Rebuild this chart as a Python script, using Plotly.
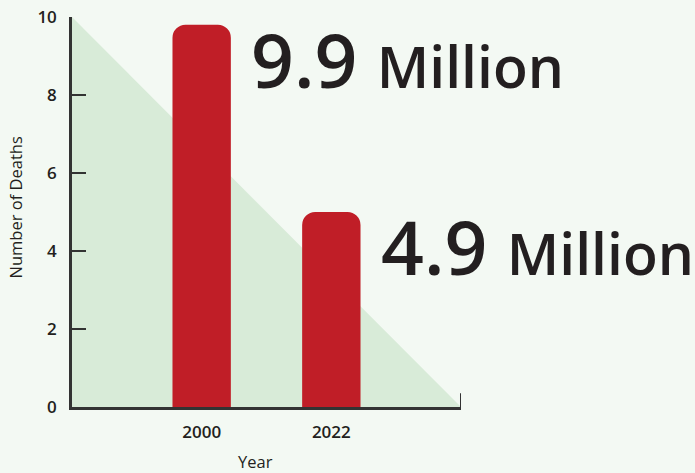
import plotly.graph_objects as go

# ---- data ----
years = ["2000", "2022"]
deaths_millions = [9.8, 5.0]          # bar heights
label_numbers = ["9.9", "4.9"]        # printed values
label_unit = "Million"
y_ticks = [0, 2, 4, 6, 8, 10]

# ---- style ----
bg = "#f3f9f3"
tri_fill = "#d8ebd8"
bar_color = "#c01e27"
axis_color = "#333333"
text_color = "#231f20"
font_family = "Open Sans, Noto Sans, sans-serif"

x_range = [-1, 2]
y_range = [0, 10]
bar_width = 0.45
x_pos = list(range(len(years)))

fig = go.Figure()

# decorative falling triangle across the plot area, drawn beneath the bars
fig.add_shape(
    type="path", xref="x", yref="y", layer="below",
    path=f"M {x_range[0]},{y_range[1]} L {x_range[1]},{y_range[0]} L {x_range[0]},{y_range[0]} Z",
    fillcolor=tri_fill, line=dict(width=0),
)

fig.add_trace(go.Bar(
    x=x_pos, y=deaths_millions, width=bar_width,
    marker=dict(color=bar_color, line=dict(width=0), cornerradius=13),
    showlegend=False, hoverinfo="skip",
))

for xp, val, num in zip(x_pos, deaths_millions, label_numbers):
    fig.add_annotation(
        x=xp + bar_width / 2, y=val, xref="x", yref="y",
        text=f"<span style='font-size:75px'>{num} </span><span style='font-size:57px'>{label_unit}</span>",
        showarrow=False, xanchor="left", yanchor="middle",
        xshift=18, yshift=-34,
        font=dict(family=font_family, size=57, color=text_color, weight=600),
    )

# right-end cap on the x axis
fig.add_shape(type="line", xref="x", yref="y",
              x0=x_range[1], x1=x_range[1], y0=0, y1=0.35,
              line=dict(color=axis_color, width=2))

fig.add_annotation(text="Year", xref="paper", yref="paper",
                   x=0.4717, y=-0.141, showarrow=False,
                   xanchor="center", yanchor="middle",
                   font=dict(family=font_family, size=16.5, color=text_color))
fig.add_annotation(text="Number of Deaths", xref="paper", yref="paper",
                   x=-0.144, y=0.5115, showarrow=False, textangle=-90,
                   xanchor="center", yanchor="middle",
                   font=dict(family=font_family, size=16.5, color=text_color))

fig.update_layout(
    width=695, height=473,
    margin=dict(l=72, r=234, t=17, b=66, autoexpand=False),
    paper_bgcolor=bg, plot_bgcolor=bg,
    font=dict(family=font_family, color=text_color),
    xaxis=dict(range=x_range, tickvals=x_pos, ticktext=years,
               showline=True, linecolor=axis_color, linewidth=2.5,
               showgrid=False, zeroline=False, ticks="", automargin=False,
               tickfont=dict(size=17, weight=600, color=text_color),
               ticklabelstandoff=8),
    yaxis=dict(range=y_range, tickvals=y_ticks,
               showline=True, linecolor=axis_color, linewidth=2.5,
               showgrid=False, zeroline=False, automargin=False,
               ticks="inside", ticklen=14, tickwidth=2, tickcolor=axis_color,
               tickfont=dict(size=17, weight=600, color=text_color),
               ticklabelstandoff=9),
)

fig.write_html("out.html")
